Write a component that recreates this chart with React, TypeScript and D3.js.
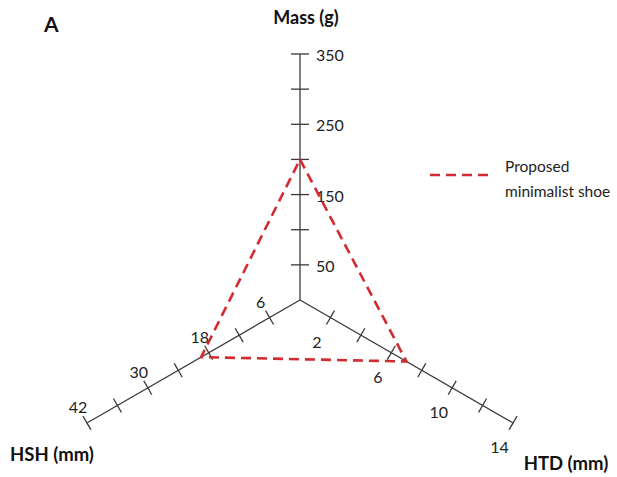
import React from "react";
import * as d3 from "d3";

// Three radial axes of the shoe profile chart
const axisNames = ["Mass (g)", "HTD (mm)", "HSH (mm)"];
const axisMax = [350, 14, 42];
const tickSteps = [50, 2, 6];
const labelledTicks = [
  [50, 150, 250, 350],
  [2, 6, 10, 14],
  [6, 18, 30, 42],
];
// Proposed minimalist shoe values on each axis
const shoeValues = [200, 7, 19.5];
const legendLabel = ["Proposed", "minimalist shoe"];

const W = 617;
const H = 477;
const cx = 300;
const cy = 300;
const R = 246;
// screen angles (degrees): up, lower right, lower left
const angles = [-90, 30, 150];

const RED = "#d42a2f";
const AXIS = "#3a3a3a";
const FONT = "Lato, 'Open Sans', sans-serif";

export default function App() {
  const scales = axisMax.map((m) => d3.scaleLinear().domain([0, m]).range([0, R]));
  const dir = angles.map((a) => [Math.cos((a * Math.PI) / 180), Math.sin((a * Math.PI) / 180)]);
  const pt = (i: number, v: number): [number, number] => {
    const r = scales[i](v);
    return [cx + dir[i][0] * r, cy + dir[i][1] * r];
  };

  const shoePts = shoeValues.map((v, i) => pt(i, v));
  const polyPath = d3.line()(shoePts.concat([shoePts[0]])) ?? "";

  // label offsets relative to each tick
  const labelOffset = (i: number): [number, number] => {
    if (i === 0) return [16, 7];
    if (i === 1) return [-13.5, 30];
    return [-9, -10];
  };

  return (
    <svg width={W} height={H} style={{ display: "block", position: "absolute", left: 0, top: 0 }}>
      <rect width={W} height={H} fill="#fff" />
      {axisMax.map((m, i) => {
        const end = pt(i, m);
        const ticks = d3.range(tickSteps[i], m + 0.001, tickSteps[i]);
        const perp = [-dir[i][1], dir[i][0]];
        const tl = i === 0 ? 9 : 8;
        return (
          <g key={i}>
            <line x1={cx} y1={cy} x2={end[0]} y2={end[1]} stroke={AXIS} strokeWidth={1.3} />
            {ticks.map((t) => {
              const p = pt(i, t);
              return (
                <line
                  key={t}
                  x1={p[0] - perp[0] * tl}
                  y1={p[1] - perp[1] * tl}
                  x2={p[0] + perp[0] * tl}
                  y2={p[1] + perp[1] * tl}
                  stroke={AXIS}
                  strokeWidth={1.3}
                />
              );
            })}
            {labelledTicks[i].map((t) => {
              const p = pt(i, t);
              const [ox, oy] = labelOffset(i);
              return (
                <text
                  key={t}
                  x={p[0] + ox}
                  y={p[1] + oy}
                  textAnchor={i === 0 ? "start" : "middle"}
                  fontFamily={FONT}
                  fontSize={16}
                  fill="#222"
                >
                  {t}
                </text>
              );
            })}
          </g>
        );
      })}

      <path
        d={polyPath}
        fill="none"
        stroke={RED}
        strokeWidth={2.6}
        strokeDasharray="10 6"
      />

      <text x={306} y={24} textAnchor="middle" fontFamily={FONT} fontWeight="bold" fontSize={18} fill="#111">
        {axisNames[0]}
      </text>
      <text x={566} y={470} textAnchor="middle" fontFamily={FONT} fontWeight="bold" fontSize={18.5} fill="#111">
        {axisNames[1]}
      </text>
      <text x={52} y={461} textAnchor="middle" fontFamily={FONT} fontWeight="bold" fontSize={18.5} fill="#111">
        {axisNames[2]}
      </text>

      <text x={44} y={32} fontFamily={FONT} fontWeight="bold" fontSize={21} fill="#111">
        A
      </text>

      <line x1={430} y1={175} x2={493} y2={175} stroke={RED} strokeWidth={2.6} strokeDasharray="10 6" />
      <text x={505} y={172} fontFamily={FONT} fontSize={15.5} fill="#222">
        {legendLabel[0]}
      </text>
      <text x={505} y={197} fontFamily={FONT} fontSize={15.5} fill="#222">
        {legendLabel[1]}
      </text>
    </svg>
  );
}
